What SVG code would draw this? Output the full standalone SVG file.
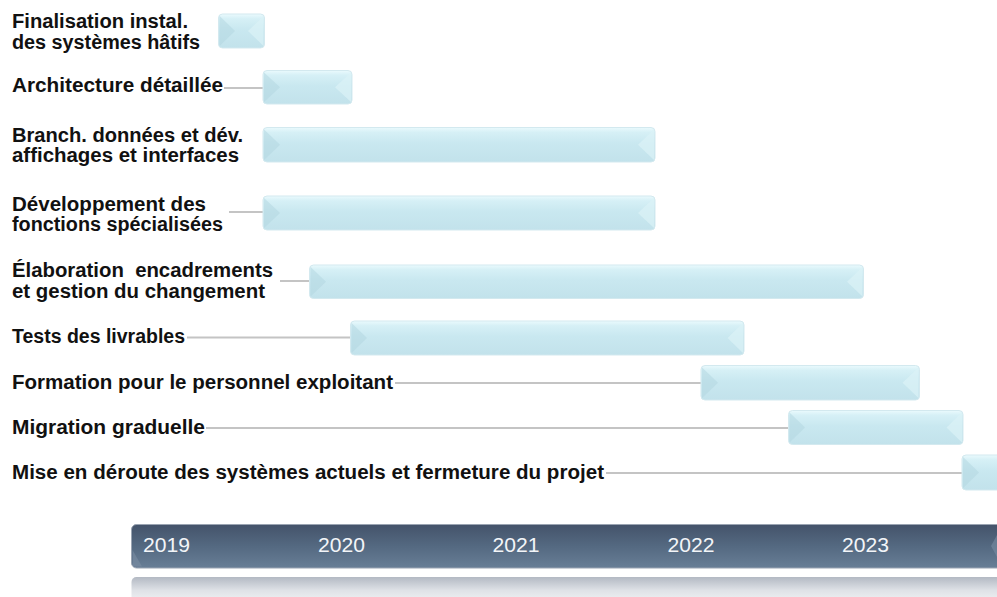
<svg xmlns="http://www.w3.org/2000/svg" width="997" height="597" viewBox="0 0 997 597">
  <defs>
    <linearGradient id="barFill" x1="0" y1="0" x2="0" y2="1">
      <stop offset="0" stop-color="#eafafd"/>
      <stop offset="0.14" stop-color="#d6f0f6"/>
      <stop offset="0.45" stop-color="#c9e8f0"/>
      <stop offset="1" stop-color="#c2e2eb"/>
    </linearGradient>
    <linearGradient id="axisFill" x1="0" y1="0" x2="0" y2="1">
      <stop offset="0" stop-color="#44536a"/>
      <stop offset="0.5" stop-color="#546981"/>
      <stop offset="1" stop-color="#687e96"/>
    </linearGradient>
    <linearGradient id="axisMirror" x1="0" y1="0" x2="0" y2="1">
      <stop offset="0" stop-color="#b3b9c3"/>
      <stop offset="0.45" stop-color="#dfe2e7"/>
      <stop offset="1" stop-color="#f8f8f9"/>
    </linearGradient>
    <style>
      .label { font-family: "Liberation Sans", Arial, sans-serif; font-weight: bold; font-size: 20px; fill: #111111; white-space: pre; }
      .year { font-family: "Liberation Sans", Arial, sans-serif; font-size: 20.5px; fill: #f3f5f8; }
      .bar { fill: url(#barFill); stroke: #d3e9ef; stroke-width: 1; }
      .bevel-l { fill: #b2d6e0; opacity: 0.5; }
      .bevel-r { fill: #dcf2f7; opacity: 0.7; }
      .link { stroke: #c4c4c4; stroke-width: 2; fill: none; }
    </style>
  </defs>

  <rect width="997" height="597" fill="#ffffff"/>

  <!-- leader lines from labels to bars -->
  <g id="connectors">
    <line class="link" x1="224" y1="88" x2="264" y2="88"/>
    <line class="link" x1="229" y1="212" x2="264" y2="212"/>
    <line class="link" x1="280" y1="281" x2="310" y2="281"/>
    <line class="link" x1="187" y1="337.5" x2="351" y2="337.5"/>
    <line class="link" x1="395" y1="383" x2="702" y2="383"/>
    <line class="link" x1="206" y1="428" x2="789" y2="428"/>
    <line class="link" x1="606" y1="473" x2="963" y2="473"/>
  </g>

  <g id="task-1">
    <text class="label" x="12" y="27.5" textLength="176" lengthAdjust="spacingAndGlyphs">Finalisation instal.</text>
    <text class="label" x="12" y="49" textLength="188" lengthAdjust="spacingAndGlyphs">des systèmes hâtifs</text>
    <rect class="bar" x="218.5" y="14" width="46" height="34" rx="4"/>
    <polygon class="bevel-l" points="219.5,16 235,31 219.5,46"/>
    <polygon class="bevel-r" points="263.5,16 248,31 263.5,46"/>
  </g>

  <g id="task-2">
    <text class="label" x="12" y="92" textLength="211" lengthAdjust="spacingAndGlyphs">Architecture détaillée</text>
    <rect class="bar" x="263" y="70.5" width="89" height="33.5" rx="4"/>
    <polygon class="bevel-l" points="264,72.5 280,87.25 264,102"/>
    <polygon class="bevel-r" points="351,72.5 335,87.25 351,102"/>
  </g>

  <g id="task-3">
    <text class="label" x="12" y="141.5" textLength="231" lengthAdjust="spacingAndGlyphs">Branch. données et dév.</text>
    <text class="label" x="12" y="162" textLength="227" lengthAdjust="spacingAndGlyphs">affichages et interfaces</text>
    <rect class="bar" x="263" y="127.5" width="392" height="34.5" rx="4"/>
    <polygon class="bevel-l" points="264,129.5 280,144.75 264,160"/>
    <polygon class="bevel-r" points="654,129.5 638,144.75 654,160"/>
  </g>

  <g id="task-4">
    <text class="label" x="12" y="210.5" textLength="194" lengthAdjust="spacingAndGlyphs">Développement des</text>
    <text class="label" x="12" y="230.5" textLength="211" lengthAdjust="spacingAndGlyphs">fonctions spécialisées</text>
    <rect class="bar" x="263" y="196" width="392" height="34" rx="4"/>
    <polygon class="bevel-l" points="264,198 280,213 264,228"/>
    <polygon class="bevel-r" points="654,198 638,213 654,228"/>
  </g>

  <g id="task-5">
    <text class="label" x="12" y="276.5" textLength="261" lengthAdjust="spacingAndGlyphs">Élaboration  encadrements</text>
    <text class="label" x="12" y="297.5" textLength="253" lengthAdjust="spacingAndGlyphs">et gestion du changement</text>
    <rect class="bar" x="309.5" y="265" width="554" height="33.5" rx="4"/>
    <polygon class="bevel-l" points="310.5,267 326,281.75 310.5,296.5"/>
    <polygon class="bevel-r" points="862.5,267 847,281.75 862.5,296.5"/>
  </g>

  <g id="task-6">
    <text class="label" x="12" y="343" textLength="173" lengthAdjust="spacingAndGlyphs">Tests des livrables</text>
    <rect class="bar" x="350.5" y="321" width="393.5" height="34" rx="4"/>
    <polygon class="bevel-l" points="351.5,323 367,338 351.5,353"/>
    <polygon class="bevel-r" points="743,323 727.5,338 743,353"/>
  </g>

  <g id="task-7">
    <text class="label" x="12" y="388.5" textLength="381" lengthAdjust="spacingAndGlyphs">Formation pour le personnel exploitant</text>
    <rect class="bar" x="701" y="365.5" width="218.5" height="34.5" rx="4"/>
    <polygon class="bevel-l" points="702,367.5 718,382.75 702,398"/>
    <polygon class="bevel-r" points="918.5,367.5 902.5,382.75 918.5,398"/>
  </g>

  <g id="task-8">
    <text class="label" x="12" y="433.5" textLength="193" lengthAdjust="spacingAndGlyphs">Migration graduelle</text>
    <rect class="bar" x="788.5" y="410.5" width="174.5" height="34" rx="4"/>
    <polygon class="bevel-l" points="789.5,412.5 805,427.5 789.5,442.5"/>
    <polygon class="bevel-r" points="962,412.5 946.5,427.5 962,442.5"/>
  </g>

  <g id="task-9">
    <text class="label" x="12" y="478.5" textLength="592" lengthAdjust="spacingAndGlyphs">Mise en déroute des systèmes actuels et fermeture du projet</text>
    <rect class="bar" x="962" y="455" width="50" height="35" rx="4"/>
    <polygon class="bevel-l" points="963,457 979,472.5 963,488"/>
  </g>

  <!-- year axis with its soft mirror strip -->
  <g id="timeline">
    <rect x="131.5" y="524.5" width="880" height="43.5" rx="5" fill="url(#axisFill)" stroke="#9aa4b2" stroke-width="1"/>
    <polygon points="132.5,550 142,566.5 133,566.5" fill="#7b8ea4" opacity="0.6"/>
    <polygon points="997,535 991,546 997,557" fill="#8094aa" opacity="0.5"/>
    <text class="year" x="143" y="552" textLength="47" lengthAdjust="spacingAndGlyphs">2019</text>
    <text class="year" x="318" y="552" textLength="47" lengthAdjust="spacingAndGlyphs">2020</text>
    <text class="year" x="492.5" y="552" textLength="47" lengthAdjust="spacingAndGlyphs">2021</text>
    <text class="year" x="667.5" y="552" textLength="47" lengthAdjust="spacingAndGlyphs">2022</text>
    <text class="year" x="842" y="552" textLength="47" lengthAdjust="spacingAndGlyphs">2023</text>
    <rect x="131.5" y="577" width="880" height="30" rx="5" fill="url(#axisMirror)"/>
  </g>
</svg>
